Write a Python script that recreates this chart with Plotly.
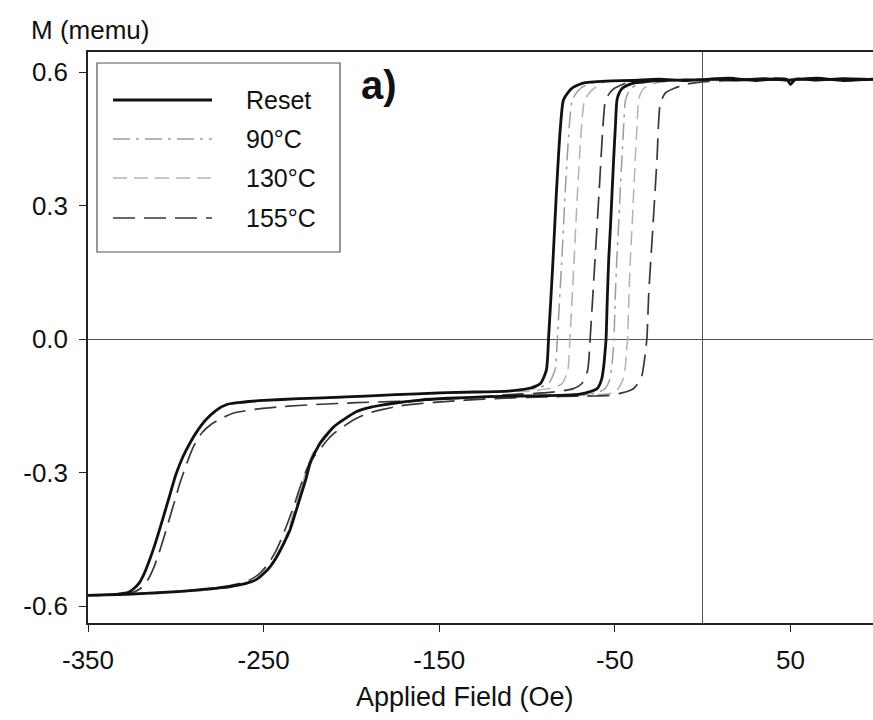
import plotly.graph_objects as go

# ---------------- data (Applied field in Oe, M in memu) ----------------
reset_down_h = [97, 80, 65, 48, 35, 20, 5, -10, -25, -40, -52, -62, -67, -70.3, -74, -76.5, -79.3, -81, -83.3, -85.2,
                -87.7, -89, -92.4, -98, -111, -130, -150, -175, -203, -230, -250, -262, -271, -277, -283, -288, -292,
                -296, -300, -303, -306, -309, -312, -315, -318, -321, -324, -327, -333, -342, -350]
reset_down_m = [0.584, 0.581, 0.586, 0.582, 0.585, 0.582, 0.584, 0.581, 0.584, 0.581, 0.580, 0.578, 0.576, 0.572,
                0.565, 0.555, 0.537, 0.476, 0.328, 0.178, 0.005, -0.070, -0.100, -0.110, -0.117, -0.119, -0.121,
                -0.125, -0.130, -0.134, -0.138, -0.142, -0.147, -0.160, -0.182, -0.208, -0.234, -0.265, -0.305,
                -0.345, -0.385, -0.425, -0.463, -0.497, -0.527, -0.549, -0.561, -0.569, -0.573, -0.575, -0.576]
reset_up_h = [-350, -340, -325, -310, -297, -283, -269, -260, -254, -250, -246, -242.5, -238.5, -235, -232, -229,
              -226, -223.5, -220.5, -217.8, -214, -210, -204, -197, -190, -182, -172, -161, -145, -125, -105, -90,
              -78, -70, -64, -60, -57.5, -56.3, -55.6, -55, -54.3, -53.5, -52.5, -51.6, -50.7, -49.7, -48.8, -47.5,
              -45.9, -43, -39.3, -34, -28, -15, 0, 15, 30, 42, 48, 50, 53, 65, 80, 97]
reset_up_m = [-0.576, -0.575, -0.573, -0.570, -0.567, -0.562, -0.556, -0.549, -0.540, -0.527, -0.510, -0.489,
              -0.459, -0.429, -0.392, -0.354, -0.316, -0.279, -0.253, -0.234, -0.215, -0.197, -0.180, -0.163,
              -0.154, -0.148, -0.142, -0.137, -0.133, -0.130, -0.128, -0.127, -0.126, -0.124, -0.118, -0.111,
              -0.090, -0.060, -0.030, 0.000, 0.090, 0.178, 0.253, 0.328, 0.403, 0.477, 0.537, 0.553, 0.563, 0.570,
              0.575, 0.578, 0.580, 0.582, 0.583, 0.586, 0.581, 0.585, 0.583, 0.572, 0.584, 0.582, 0.585, 0.583]

t90_down_h = [97, 70, 40, 10, -20, -45, -57, -62, -65.3, -69, -71.5, -74.3, -76, -78.3, -80.2, -82.7, -84, -87.4,
              -93, -106, -128, -150, -176, -204, -231, -251, -263, -272, -278, -284, -289, -293, -297, -301, -304,
              -307, -310, -313, -316, -319, -322, -325, -328, -334, -343, -350]
t90_down_m = [0.583, 0.584, 0.582, 0.583, 0.582, 0.581, 0.579, 0.576, 0.572, 0.565, 0.555, 0.537, 0.476, 0.328,
              0.178, 0.005, -0.068, -0.098, -0.109, -0.116, -0.119, -0.122, -0.126, -0.131, -0.135, -0.139, -0.143,
              -0.149, -0.162, -0.186, -0.212, -0.240, -0.275, -0.318, -0.357, -0.397, -0.437, -0.474, -0.506,
              -0.533, -0.553, -0.563, -0.570, -0.574, -0.576, -0.577]
t90_up_h = [-350, -335, -318, -300, -285, -270, -261, -255, -251, -247, -243.5, -239.5, -236, -233, -230, -227,
            -224.5, -221.5, -218.5, -215, -211, -205, -198, -190, -181, -170, -155, -135, -110, -90, -75, -64,
            -58.5, -55.5, -53, -51.7, -51, -50.5, -49.8, -48.9, -47.9, -47, -46, -45, -44, -42.5, -41, -38, -34,
            -28, -20, -5, 15, 40, 70, 97]
t90_up_m = [-0.577, -0.575, -0.572, -0.569, -0.565, -0.558, -0.551, -0.542, -0.530, -0.513, -0.492, -0.463,
            -0.432, -0.396, -0.358, -0.320, -0.284, -0.256, -0.236, -0.216, -0.199, -0.181, -0.165, -0.155, -0.148,
            -0.142, -0.136, -0.132, -0.129, -0.127, -0.126, -0.124, -0.118, -0.111, -0.092, -0.060, -0.030, 0.000,
            0.090, 0.178, 0.253, 0.328, 0.403, 0.477, 0.535, 0.553, 0.563, 0.570, 0.575, 0.579, 0.581, 0.583,
            0.584, 0.582, 0.583, 0.584]

t130_down_h = [97, 70, 40, 10, -20, -40, -50, -55, -58, -61, -64.5, -67.3, -69, -71.3, -73.2, -75.5, -76.8, -80,
               -86, -99, -118, -140, -165, -195, -225, -248, -261, -270, -277, -283, -288, -292, -296, -300, -303,
               -306, -309, -312, -315, -318, -321, -324, -327, -333, -342, -350]
t130_down_m = [0.584, 0.583, 0.584, 0.582, 0.583, 0.582, 0.580, 0.578, 0.574, 0.566, 0.553, 0.536, 0.476, 0.328,
               0.178, 0.005, -0.070, -0.100, -0.110, -0.117, -0.119, -0.121, -0.124, -0.129, -0.133, -0.137,
               -0.141, -0.146, -0.159, -0.181, -0.207, -0.233, -0.264, -0.304, -0.344, -0.384, -0.424, -0.462,
               -0.496, -0.526, -0.548, -0.560, -0.568, -0.573, -0.575, -0.576]
t130_up_h = [-350, -338, -322, -305, -290, -275, -264, -257, -252, -248, -244.5, -240.5, -237, -234, -231, -228,
             -225.5, -222.5, -219.5, -216, -212, -206, -199, -191, -182, -171, -158, -140, -115, -90, -70, -56, -50,
             -48, -45.3, -44, -43.4, -42.8, -42, -41.2, -40.2, -39.3, -38.4, -37.4, -36.5, -35.2, -33.6, -30.7,
             -27, -21.7, -15.7, -5, 15, 40, 70, 97]
t130_up_m = [-0.576, -0.575, -0.572, -0.569, -0.565, -0.559, -0.552, -0.545, -0.535, -0.520, -0.500, -0.472,
             -0.440, -0.404, -0.366, -0.328, -0.291, -0.261, -0.240, -0.220, -0.202, -0.184, -0.167, -0.156,
             -0.149, -0.143, -0.137, -0.133, -0.130, -0.128, -0.126, -0.124, -0.120, -0.111, -0.090, -0.060,
             -0.030, 0.000, 0.090, 0.178, 0.253, 0.328, 0.403, 0.477, 0.537, 0.553, 0.563, 0.570, 0.575, 0.578,
             0.580, 0.582, 0.584, 0.583, 0.582, 0.584]

t155_down_h = [97, 70, 40, 15, -5, -20, -30, -38, -43, -46.3, -50, -52.5, -55.3, -56.8, -59, -61.3, -64, -65.5,
               -68.8, -74, -87, -110, -135, -160, -197, -220, -240, -255, -267, -275, -280, -285, -290, -294,
               -297.5, -300.5, -303.5, -306.5, -309.5, -312.5, -315.5, -319, -323, -328, -337, -350]
t155_down_m = [0.583, 0.584, 0.582, 0.584, 0.583, 0.582, 0.581, 0.579, 0.576, 0.571, 0.564, 0.555, 0.537, 0.476,
               0.328, 0.178, 0.005, -0.070, -0.100, -0.112, -0.120, -0.125, -0.132, -0.138, -0.143, -0.147,
               -0.152, -0.158, -0.166, -0.180, -0.192, -0.210, -0.242, -0.282, -0.322, -0.362, -0.402, -0.442,
               -0.480, -0.513, -0.538, -0.557, -0.567, -0.572, -0.575, -0.576]
t155_up_h = [-350, -338, -322, -306, -292, -279, -268, -260, -255, -251, -247, -243.5, -240, -236.5, -233, -230,
             -227, -224, -221, -217.8, -214, -210, -204, -197, -190, -182, -172, -161, -145, -125, -100, -80, -62,
             -50.9, -47, -43, -39.3, -35.5, -34.5, -32.6, -31.7, -30.7, -28.3, -26, -24.1, -21.2, -16.5, -9, 0,
             15, 35, 60, 97]
t155_up_m = [-0.576, -0.575, -0.572, -0.569, -0.565, -0.560, -0.553, -0.545, -0.535, -0.522, -0.503, -0.480,
             -0.450, -0.415, -0.378, -0.342, -0.308, -0.280, -0.262, -0.247, -0.228, -0.212, -0.195, -0.178,
             -0.166, -0.158, -0.150, -0.145, -0.140, -0.135, -0.131, -0.129, -0.128, -0.126, -0.122, -0.118,
             -0.111, -0.092, -0.081, -0.031, 0.005, 0.102, 0.254, 0.404, 0.530, 0.553, 0.563, 0.573, 0.578,
             0.581, 0.583, 0.582, 0.584]

series_names = ["Reset", "90°C", "130°C", "155°C"]
x_tick_vals = [-350, -250, -150, -50, 50]
x_tick_text = ["-350", "-250", "-150", "-50", "50"]
y_tick_vals = [-0.6, -0.3, 0.0, 0.3, 0.6]
y_tick_text = ["-0.6", "-0.3", "0.0", "0.3", "0.6"]

# ---------------- styles ----------------
FONT = "Liberation Sans, Arial, Helvetica, sans-serif"
styles = {
    "Reset": dict(color="#111111", width=2.8, dash="solid"),
    "90°C": dict(color="#9c9c9c", width=1.5, dash="17px,6px,3px,6px"),
    "130°C": dict(color="#b2b2b2", width=1.5, dash="14px,7px"),
    "155°C": dict(color="#383838", width=1.7, dash="22px,9px"),
}
loops = {
    "Reset": (reset_down_h + reset_up_h, reset_down_m + reset_up_m),
    "90°C": (t90_down_h + t90_up_h, t90_down_m + t90_up_m),
    "130°C": (t130_down_h + t130_up_h, t130_down_m + t130_up_m),
    "155°C": (t155_down_h + t155_up_h, t155_down_m + t155_up_m),
}

fig = go.Figure()
for name in ["130°C", "90°C", "155°C", "Reset"]:
    xs, ys = loops[name]
    st = styles[name]
    fig.add_trace(go.Scatter(
        x=xs, y=ys, mode="lines", name=name, showlegend=False,
        line=dict(color=st["color"], width=st["width"], dash=st["dash"], shape="spline", smoothing=0.6),
    ))

# plot area in pixels
L, R, T, B = 88, 873, 52, 623
W, H = 873, 720


def px(xp):
    return (xp - L) / (R - L)


def py(yp):
    return (B - yp) / (B - T)


shapes = []
annotations = []
# legend box
shapes.append(dict(type="rect", xref="paper", yref="paper", x0=px(97), x1=px(340), y0=py(252), y1=py(63),
                   line=dict(color="#555555", width=1.2), fillcolor="white", layer="above"))
row_y = [100, 139, 178, 218]
for name, yy in zip(series_names, row_y):
    st = styles[name]
    shapes.append(dict(type="line", xref="paper", yref="paper", x0=px(113), x1=px(212), y0=py(yy), y1=py(yy),
                       line=dict(color=st["color"], width=st["width"] + (0.4 if name == "Reset" else 0),
                                 dash=st["dash"]), layer="above"))
    annotations.append(dict(text=name, xref="paper", yref="paper", x=px(244), y=py(yy), xanchor="left",
                            yanchor="middle", showarrow=False, font=dict(family=FONT, size=25, color="#111")))

annotations.append(dict(text="<b>a)</b>", xref="paper", yref="paper", x=px(379), y=py(85), xanchor="center",
                        yanchor="middle", showarrow=False, font=dict(family=FONT, size=40, color="#111")))
annotations.append(dict(text="M (memu)", xref="paper", yref="paper", x=px(29), y=py(30), xanchor="left",
                        yanchor="middle", showarrow=False, font=dict(family=FONT, size=26, color="#111")))
annotations.append(dict(text="Applied Field (Oe)", xref="paper", yref="paper", x=px(465), y=py(697),
                        xanchor="center", yanchor="middle", showarrow=False,
                        font=dict(family=FONT, size=27, color="#111")))

fig.update_layout(
    width=W, height=H,
    margin=dict(l=L, r=W - R, t=T, b=H - B, pad=0),
    paper_bgcolor="white", plot_bgcolor="white",
    showlegend=False,
    shapes=shapes, annotations=annotations,
    font=dict(family=FONT, size=26, color="#111"),
)
fig.update_xaxes(
    range=[-350, 97], tickmode="array", tickvals=x_tick_vals, ticktext=x_tick_text,
    showgrid=False, zeroline=True, zerolinecolor="#555555", zerolinewidth=1.2,
    showline=True, linecolor="#222222", linewidth=1.5, mirror=True,
    ticks="outside", ticklen=7, tickwidth=1.2, tickcolor="#222222",
    tickfont=dict(family=FONT, size=26, color="#111"), ticklabelstandoff=6,
)
fig.update_yaxes(
    range=[-0.638, 0.645], tickmode="array", tickvals=y_tick_vals, ticktext=y_tick_text,
    showgrid=False, zeroline=True, zerolinecolor="#555555", zerolinewidth=1.2,
    showline=True, linecolor="#222222", linewidth=1.5, mirror=False,
    ticks="outside", ticklen=7, tickwidth=1.2, tickcolor="#222222",
    tickfont=dict(family=FONT, size=26, color="#111"), ticklabelstandoff=6,
)

fig.write_html("out.html")
